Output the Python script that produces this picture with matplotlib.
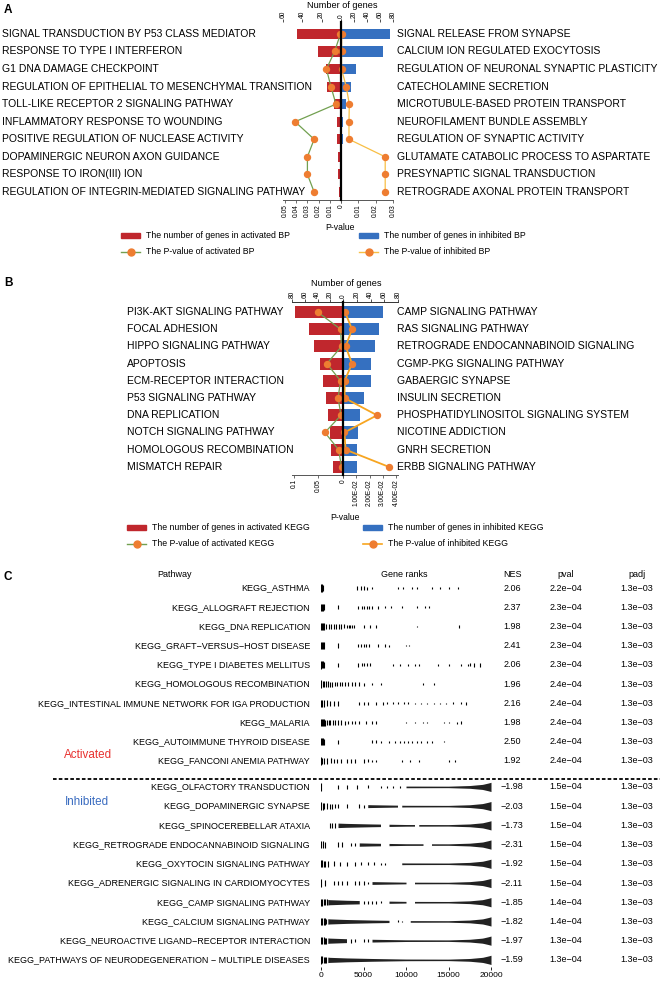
import numpy as np
import matplotlib
matplotlib.use('Agg')
import matplotlib.pyplot as plt
from matplotlib.transforms import blended_transform_factory
from matplotlib.patches import Patch
from matplotlib.lines import Line2D

# ---------------- DATA ----------------
# Panel A (GO BP)
act_bp = ["SIGNAL TRANSDUCTION BY P53 CLASS MEDIATOR", "RESPONSE TO TYPE I INTERFERON",
          "G1 DNA DAMAGE CHECKPOINT", "REGULATION OF EPITHELIAL TO MESENCHYMAL TRANSITION",
          "TOLL-LIKE RECEPTOR 2 SIGNALING PATHWAY", "INFLAMMATORY RESPONSE TO WOUNDING",
          "POSITIVE REGULATION OF NUCLEASE ACTIVITY", "DOPAMINERGIC NEURON AXON GUIDANCE",
          "RESPONSE TO IRON(III) ION", "REGULATION OF INTEGRIN-MEDIATED SIGNALING PATHWAY"]
act_bp_genes = [46, 24, 16, 14, 7, 4, 4, 3, 3, 2]
act_bp_p = [0.0005, 0.0057, 0.013, 0.009, 0.0045, 0.041, 0.024, 0.030, 0.030, 0.024]
inh_bp = ["SIGNAL RELEASE FROM SYNAPSE", "CALCIUM ION REGULATED EXOCYTOSIS",
          "REGULATION OF NEURONAL SYNAPTIC PLASTICITY", "CATECHOLAMINE SECRETION",
          "MICROTUBULE-BASED PROTEIN TRANSPORT", "NEUROFILAMENT BUNDLE ASSEMBLY",
          "REGULATION OF SYNAPTIC ACTIVITY", "GLUTAMATE CATABOLIC PROCESS TO ASPARTATE",
          "PRESYNAPTIC SIGNAL TRANSDUCTION", "RETROGRADE AXONAL PROTEIN TRANSPORT"]
inh_bp_genes = [75, 64, 23, 15, 8, 3, 3, 2, 2, 2]
inh_bp_p = [0.0004, 0.0003, 0.0003, 0.0030, 0.0048, 0.0046, 0.0046, 0.0255, 0.0255, 0.0255]

# Panel B (KEGG)
act_kegg = ["PI3K-AKT SIGNALING PATHWAY", "FOCAL ADHESION", "HIPPO SIGNALING PATHWAY", "APOPTOSIS",
            "ECM-RECEPTOR INTERACTION", "P53 SIGNALING PATHWAY", "DNA REPLICATION",
            "NOTCH SIGNALING PATHWAY", "HOMOLOGOUS RECOMBINATION", "MISMATCH REPAIR"]
act_kegg_genes = [76, 54, 45, 36, 31, 26, 24, 21, 19, 16]
act_kegg_p = [0.052, 0.005, 0.003, 0.033, 0.005, 0.010, 0.004, 0.037, 0.009, 0.003]
inh_kegg = ["CAMP SIGNALING PATHWAY", "RAS SIGNALING PATHWAY", "RETROGRADE ENDOCANNABINOID SIGNALING",
            "CGMP-PKG SIGNALING PATHWAY", "GABAERGIC SYNAPSE", "INSULIN SECRETION",
            "PHOSPHATIDYLINOSITOL SIGNALING SYSTEM", "NICOTINE ADDICTION", "GNRH SECRETION",
            "ERBB SIGNALING PATHWAY"]
inh_kegg_genes = [58, 52, 46, 40, 40, 31, 24, 22, 21, 21]
inh_kegg_p = [0.0015, 0.0068, 0.002, 0.0068, 0.0012, 0.0012, 0.0257, 0.001, 0.002, 0.0347]

# Panel C (GSEA table)
gsea_pathways = ["KEGG_ASTHMA", "KEGG_ALLOGRAFT REJECTION", "KEGG_DNA REPLICATION",
                 "KEGG_GRAFT\u2212VERSUS\u2212HOST DISEASE", "KEGG_TYPE I DIABETES MELLITUS",
                 "KEGG_HOMOLOGOUS RECOMBINATION", "KEGG_INTESTINAL IMMUNE NETWORK FOR IGA PRODUCTION",
                 "KEGG_MALARIA", "KEGG_AUTOIMMUNE THYROID DISEASE", "KEGG_FANCONI ANEMIA PATHWAY",
                 "KEGG_OLFACTORY TRANSDUCTION", "KEGG_DOPAMINERGIC SYNAPSE", "KEGG_SPINOCEREBELLAR ATAXIA",
                 "KEGG_RETROGRADE ENDOCANNABINOID SIGNALING", "KEGG_OXYTOCIN SIGNALING PATHWAY",
                 "KEGG_ADRENERGIC SIGNALING IN CARDIOMYOCYTES", "KEGG_CAMP SIGNALING PATHWAY",
                 "KEGG_CALCIUM SIGNALING PATHWAY", "KEGG_NEUROACTIVE LIGAND\u2212RECEPTOR INTERACTION",
                 "KEGG_PATHWAYS OF NEURODEGENERATION \u2212 MULTIPLE DISEASES"]
gsea_nes = [2.06, 2.37, 1.98, 2.41, 2.06, 1.96, 2.16, 1.98, 2.50, 1.92,
            -1.98, -2.03, -1.73, -2.31, -1.92, -2.11, -1.85, -1.82, -1.97, -1.59]
gsea_pval = [2.2e-4, 2.3e-4, 2.3e-4, 2.3e-4, 2.3e-4, 2.4e-4, 2.4e-4, 2.4e-4, 2.4e-4, 2.4e-4,
             1.5e-4, 1.5e-4, 1.5e-4, 1.5e-4, 1.5e-4, 1.5e-4, 1.4e-4, 1.4e-4, 1.3e-4, 1.3e-4]
gsea_padj = [1.3e-3] * 20

# gene-rank hit positions (single ticks) per pathway
gsea_hits = [
    [0, 100, 250, 4250, 4700, 5100, 5400, 6000, 9000, 9600, 10750, 11250, 13000, 14000, 15000, 16100],
    [0, 100, 200, 300, 2000, 4400, 4800, 5100, 5400, 5700, 6000, 6750, 7500, 8250, 9500, 11250, 12250, 12750],
    [0, 100, 200, 300, 600, 900, 1200, 1500, 1800, 2100, 2400, 2700, 3000, 3300, 3450, 3600, 3900,
     5000, 5750, 6500, 11250, 16250],
    [0, 100, 200, 300, 2000, 4400, 4700, 5000, 5300, 5700, 6750, 7500, 8000, 10000, 10300],
    [0, 100, 200, 300, 2000, 4400, 4800, 5100, 5400, 5800, 8500, 9300, 10200, 11000, 11500,
     13750, 15000, 16500, 17250, 17500, 18000, 18750],
    [0, 200, 400, 600, 800, 1000, 1300, 1600, 1900, 2200, 2500, 2800, 3200, 3600, 4000, 4500, 5000,
     6000, 7000, 12000, 13250],
    [0, 100, 300, 700, 1000, 1500, 2000, 4500, 5000, 5500, 6500, 7250, 7750, 8500, 9000, 9750,
     10250, 11000, 11750, 12500, 13250, 14000, 14750, 15500, 16500, 17000],
    [0, 100, 200, 300, 500, 700, 900, 1100, 1400, 1700, 2000, 2400, 2800, 3200, 3600, 4000,
     4500, 5250, 6000, 6500, 10000, 11000, 12000, 12500, 14500, 15000, 16000, 16500],
    [0, 100, 200, 300, 2000, 6000, 6500, 7000, 8000, 8750, 9250, 9750, 10250, 10750, 11250,
     11750, 12500, 13000, 14500],
    [0, 150, 400, 700, 1200, 1500, 1900, 2300, 3000, 3500, 4000, 5000, 5500, 6000, 6500,
     9500, 10500, 11500, 15000, 15750],
    [0, 2000, 3000, 4250, 5500, 7000, 7750, 8500, 9250],
    [0, 200, 400, 700, 1000, 1300, 1600, 2000, 3000, 4500, 5000],
    [1000, 1300, 1600],
    [0, 250, 500, 2000, 2500, 3500, 4000],
    [0, 150, 300, 500, 800, 1500, 2250, 3000, 4000, 4750, 5500, 6250, 7000, 7500],
    [0, 500, 1500, 2000, 2500, 3000, 4000, 4500, 5000, 5500],
    [0, 150, 300, 500, 700, 5000, 5500, 6000, 6500, 7000],
    [0, 150, 300, 450, 600, 9000, 9500],
    [0, 150, 300, 450, 600, 3500, 4000, 5000, 5500],
    [0, 150, 300, 450, 600],
]
# rank ranges densely packed with hits, per pathway
gsea_dense = [
    [], [], [], [], [], [], [], [], [], [],
    [(10000, 20000)],
    [(5500, 9000), (9500, 20000)],
    [(2000, 7000), (8000, 11000), (11500, 20000)],
    [(4500, 7000), (8000, 12000), (13000, 20000)],
    [(9500, 20000)],
    [(6000, 10000), (11000, 20000)],
    [(800, 4500), (8000, 10000), (11000, 20000)],
    [(800, 8000), (10500, 20000)],
    [(800, 3000), (6000, 20000)],
    [(800, 20000)],
]
# |ranking statistic| profile along the ranked list (normalised)
rank_stat_pos = [0, 300, 1000, 3000, 6000, 10000, 15000, 17500, 19000, 19700, 20000]
rank_stat_abs = [0.8, 0.7, 0.55, 0.42, 0.3, 0.18, 0.16, 0.3, 0.55, 0.85, 1.0]
rank_ticks = [0, 5000, 10000, 15000, 20000]

# ---------------- STYLE ----------------
W, H = 660, 983
FONT = ['Liberation Sans', 'DejaVu Sans']
plt.rcParams['font.family'] = FONT
LAB = 7.5      # category labels panels A/B
TCK = 4.8      # rotated tick labels
LEG = 6.3
CF = 6.5       # panel C text

RED = '#C0272D'
BLUE = '#3570C0'
GREEN = '#72A050'
ORANGE = '#EE7D31'
GOLD_A = '#F8BF45'
GOLD_B = '#F7A520'

fig = plt.figure(figsize=(W / 100, H / 100), dpi=100)


def px_axes(x0, y0, x1, y1):
    return fig.add_axes([x0 / W, 1 - y1 / H, (x1 - x0) / W, (y1 - y0) / H])


def fx(x):
    return x / W


def fy(y):
    return 1 - y / H


def side(x0, x1, y0, y1, ylim, genes, pvals, glim, plim, bar_color, line_color, lw,
         gticks, gticklabels, pticks, pticklabels, bh, top_spine):
    n = len(genes)
    yy = np.arange(n)
    axg = px_axes(x0, y0, x1, y1)
    axp = axg.twiny()
    # gene-count bars (top axis)
    axg.barh(yy, genes, height=bh, color=bar_color, zorder=2)
    axg.set_xlim(*glim)
    axg.set_ylim(*ylim)
    axg.set_yticks([])
    for s in ['left', 'right', 'bottom']:
        axg.spines[s].set_visible(False)
    axg.spines['top'].set_visible(top_spine)
    axg.spines['top'].set_linewidth(0.7)
    axg.spines['top'].set_color('#333333')
    axg.xaxis.tick_top()
    axg.xaxis.set_label_position('top')
    axg.set_xticks(gticks)
    axg.set_xticklabels(gticklabels, fontsize=TCK)
    axg.tick_params(axis='x', which='both', top=True, bottom=False, labeltop=True, labelbottom=False,
                    labelrotation=90, length=2, width=0.6, pad=1, color='#333333')
    axg.patch.set_alpha(0)
    # p-value line (bottom axis)
    axp.plot(pvals, yy, color=line_color, lw=lw, marker='o', ms=4.3, mfc=ORANGE, mec=ORANGE,
             zorder=3, clip_on=False)
    axp.set_xlim(*plim)
    axp.set_ylim(*ylim)
    for s in ['left', 'right', 'top']:
        axp.spines[s].set_visible(False)
    axp.spines['bottom'].set_linewidth(0.7)
    axp.spines['bottom'].set_color('#555555')
    axp.xaxis.tick_bottom()
    axp.xaxis.set_label_position('bottom')
    axp.set_xticks(pticks)
    axp.set_xticklabels(pticklabels, fontsize=TCK)
    axp.tick_params(axis='x', which='both', top=False, bottom=True, labeltop=False, labelbottom=True,
                    labelrotation=90, length=2, width=0.6, pad=1, color='#555555')
    axp.patch.set_alpha(0)
    return axg, axp


def legend_entry(x, y, handle, text, fs):
    fig.legend(handles=[handle], labels=[text], loc='center left', bbox_to_anchor=(fx(x), fy(y)),
               frameon=False, handlelength=2.2, handleheight=0.6, handletextpad=0.6,
               borderpad=0, borderaxespad=0, prop={'size': fs})


# ---------------- PANEL A ----------------
yl_A = (9.46, -0.68)
A_y0, A_y1 = 22, 200
A_z = 341
axAL, axALp = side(283, A_z, A_y0, A_y1, yl_A, act_bp_genes, act_bp_p, (60, 0), (0.0518, 0),
                   RED, GREEN, 0.9, [60, 40, 20, 0], ['60', '40', '20', '0'],
                   [0.05, 0.04, 0.03, 0.02, 0.01, 0], ['0.05', '0.04', '0.03', '0.02', '0.01', '0'],
                   0.58, False)
axAR, axARp = side(A_z, 393, A_y0, A_y1, yl_A, inh_bp_genes, inh_bp_p, (0, 80), (0, 0.0295),
                   BLUE, GOLD_A, 0.9, [0, 20, 40, 60, 80], ['', '20', '40', '60', '80'],
                   [0, 0.01, 0.02, 0.03], ['', '0.01', '0.02', '0.03'], 0.58, False)
axARp.axvline(0, color='black', lw=1.6, zorder=5, clip_on=False)

trA = blended_transform_factory(fig.transFigure, axAL.transData)
for i, t in enumerate(act_bp):
    axAL.text(fx(2), i, t, transform=trA, ha='left', va='center', fontsize=LAB, clip_on=False)
for i, t in enumerate(inh_bp):
    axAL.text(fx(397), i, t, transform=trA, ha='left', va='center', fontsize=LAB, clip_on=False)

fig.text(fx(342), fy(6), 'Number of genes', ha='center', va='center', fontsize=6.6)
fig.text(fx(340), fy(227), 'P-value', ha='center', va='center', fontsize=6.2)
fig.text(fx(4), fy(10), 'A', ha='left', va='center', fontsize=8.5, fontweight='bold')

legend_entry(121, 236, Patch(color=RED), 'The number of genes in activated BP', LEG)
legend_entry(359, 236, Patch(color=BLUE), 'The number of genes in inhibited BP', LEG)
legend_entry(121, 252, Line2D([], [], color=GREEN, lw=1, marker='o', ms=5, mfc=ORANGE, mec=ORANGE),
             'The P-value of activated BP', LEG)
legend_entry(359, 252, Line2D([], [], color=GOLD_A, lw=1, marker='o', ms=5, mfc=ORANGE, mec=ORANGE),
             'The P-value of inhibited BP', LEG)

# ---------------- PANEL B ----------------
yl_B = (9.47, -0.58)
B_y0, B_y1 = 302, 475
B_z = 343
axBL, axBLp = side(292, B_z, B_y0, B_y1, yl_B, act_kegg_genes, act_kegg_p, (80, 0), (0.104, 0),
                   RED, GREEN, 0.9, [80, 60, 40, 20, 0], ['80', '60', '40', '20', '0'],
                   [0.1, 0.05, 0], ['0.1', '0.05', '0'], 0.7, True)
axBR, axBRp = side(B_z, 398, B_y0, B_y1, yl_B, inh_kegg_genes, inh_kegg_p, (0, 80), (0, 0.0415),
                   BLUE, GOLD_B, 1.3, [0, 20, 40, 60, 80], ['', '20', '40', '60', '80'],
                   [0, 0.01, 0.02, 0.03, 0.04], ['', '1.00E-02', '2.00E-02', '3.00E-02', '4.00E-02'],
                   0.7, True)
axBRp.axvline(0, color='black', lw=1.6, zorder=5, clip_on=False)
trB = blended_transform_factory(fig.transFigure, axBL.transData)
for i, t in enumerate(act_kegg):
    axBL.text(fx(127), i, t, transform=trB, ha='left', va='center', fontsize=LAB, clip_on=False)
for i, t in enumerate(inh_kegg):
    axBL.text(fx(397), i, t, transform=trB, ha='left', va='center', fontsize=LAB, clip_on=False)
fig.text(fx(346), fy(283), 'Number of genes', ha='center', va='center', fontsize=6.6)
fig.text(fx(345), fy(518), 'P-value', ha='center', va='center', fontsize=6.2)
fig.text(fx(4), fy(283), 'B', ha='left', va='center', fontsize=8.5, fontweight='bold')

legend_entry(127, 528, Patch(color=RED), 'The number of genes in activated KEGG', LEG)
legend_entry(363, 528, Patch(color=BLUE), 'The number of genes in inhibited KEGG', LEG)
legend_entry(127, 544, Line2D([], [], color=GREEN, lw=1, marker='o', ms=5, mfc=ORANGE, mec=ORANGE),
             'The P-value of activated KEGG', LEG)
legend_entry(363, 544, Line2D([], [], color=GOLD_B, lw=1.2, marker='o', ms=5, mfc=ORANGE, mec=ORANGE),
             'The P-value of inhibited KEGG', LEG)

# ---------------- PANEL C ----------------
fig.text(fx(4), fy(577), 'C', ha='left', va='center', fontsize=8.5, fontweight='bold')
axC = px_axes(321, 578.4, 491, 966.6)
axC.set_xlim(0, 20000)
axC.set_ylim(19.7, -0.5)
row_y = [i + (0.35 if i >= 10 else 0) for i in range(20)]
TALL = 0.48
for i in range(20):
    yc = row_y[i]
    hits = np.array(gsea_hits[i], dtype=float)
    if len(hits):
        h = TALL * np.interp(hits, rank_stat_pos, rank_stat_abs)
        axC.vlines(hits, yc - h / 2, yc + h / 2, color='black', lw=0.8)
    for (s, e) in gsea_dense[i]:
        xs = np.linspace(s, e, 80)
        h = TALL * np.interp(xs, rank_stat_pos, rank_stat_abs)
        axC.fill_between(xs, yc - h / 2, yc + h / 2, color='#222222', lw=0)
axC.set_yticks([])
for s in axC.spines.values():
    s.set_visible(False)
axC.set_xticks(rank_ticks)
axC.set_xticklabels([str(t) for t in rank_ticks], fontsize=6.0)
axC.tick_params(axis='x', length=2.5, width=0.6, pad=1.5)
axC.patch.set_alpha(0)

trC = blended_transform_factory(fig.transFigure, axC.transData)
hy = -0.68
axC.text(fx(175), hy, 'Pathway', transform=trC, ha='center', va='center', fontsize=CF, clip_on=False)
axC.text(fx(404), hy, 'Gene ranks', transform=trC, ha='center', va='center', fontsize=CF, clip_on=False)
axC.text(fx(512), hy, 'NES', transform=trC, ha='center', va='center', fontsize=CF, clip_on=False)
axC.text(fx(566), hy, 'pval', transform=trC, ha='center', va='center', fontsize=CF, clip_on=False)
axC.text(fx(637), hy, 'padj', transform=trC, ha='center', va='center', fontsize=CF, clip_on=False)


def sci(v):
    return ('%.1e' % v).replace('-', '\u2212')


for i in range(20):
    yc = row_y[i]
    axC.text(fx(310), yc, gsea_pathways[i], transform=trC, ha='right', va='center', fontsize=CF, clip_on=False)
    axC.text(fx(512), yc, ('%.2f' % gsea_nes[i]).replace('-', '\u2212'), transform=trC, ha='center',
             va='center', fontsize=CF, clip_on=False)
    axC.text(fx(566), yc, sci(gsea_pval[i]), transform=trC, ha='center', va='center', fontsize=CF, clip_on=False)
    axC.text(fx(637), yc, sci(gsea_padj[i]), transform=trC, ha='center', va='center', fontsize=CF, clip_on=False)

axC.plot([fx(53), fx(660)], [9.94, 9.94], transform=trC, color='black', lw=1.3, ls=(0, (2, 1.2)), clip_on=False)
axC.text(fx(88), 8.69, 'Activated', transform=trC, ha='center', va='center', fontsize=8.4,
         color='#E8312F', clip_on=False)
axC.text(fx(87), 11.13, 'Inhibited', transform=trC, ha='center', va='center', fontsize=8.4,
         color='#3A6CC0', clip_on=False)

fig.savefig('out.png', dpi=100)
